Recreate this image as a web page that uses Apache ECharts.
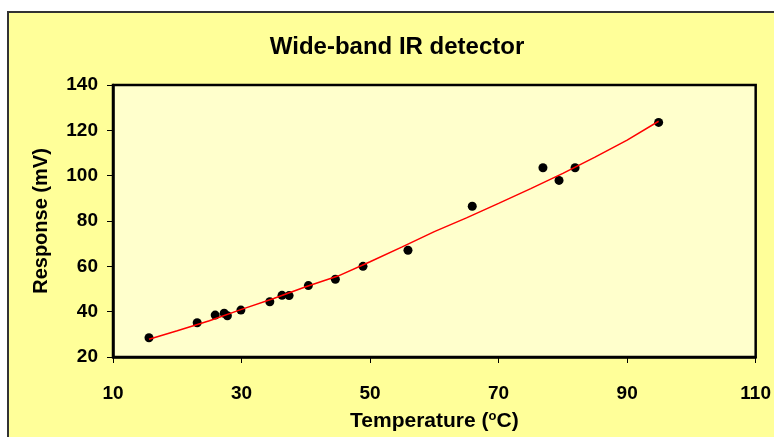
<!DOCTYPE html>
<html>
<head>
<meta charset="utf-8">
<script src="https://cdn.jsdelivr.net/npm/echarts@6/dist/echarts.min.js"></script>
<style>
  html, body { margin: 0; padding: 0; background: #fff; }
  .frame {
    position: absolute; left: 7px; top: 11px; width: 767px; height: 426px;
    background: #ffff99; border-top: 2px solid #333; border-left: 2px solid #333;
    box-sizing: border-box;
  }
  #chart { position: absolute; left: 0; top: 0; width: 774px; height: 437px; }
</style>
</head>
<body>
<div class="frame"></div>
<div id="chart"></div>
<script>
// measured points: temperature (°C) and response (mV)
const temps = [15.6, 23.1, 25.9, 27.3, 27.8, 29.9, 34.4, 36.3, 37.4, 40.4, 44.6, 48.9, 55.9, 65.9, 76.9, 79.4, 81.9, 94.9];
const responses = [28.5, 35.1, 38.5, 39.3, 38.2, 40.7, 44.4, 47.2, 47.1, 51.5, 54.3, 60.0, 67.1, 86.5, 103.5, 97.9, 103.5, 123.5];

// fitted curve
const fitTemps = [15.6, 20, 25, 30, 35, 40, 45, 50, 55, 60, 65, 70, 75, 80, 85, 90, 94.9];
const fitResponses = [27.8, 31.6, 36.0, 41.0, 45.8, 51.0, 55.7, 62.0, 68.6, 75.3, 81.4, 87.8, 94.3, 101.0, 108.2, 115.7, 124.0];

const fontFam = 'Arial, "Liberation Sans", sans-serif';
const myChart = echarts.init(document.getElementById("chart"));

const option = {
  backgroundColor: "transparent",
  animation: false,
  title: {
    text: "Wide-band IR detector",
    left: 392,
    textAlign: "center",
    top: 30,
    textStyle: { fontFamily: fontFam, fontWeight: "bold", fontSize: 24, color: "#000" }
  },
  grid: {
    left: 113,
    top: 85,
    width: 646,
    height: 272,
    show: true,
    backgroundColor: "#ffffcc",
    borderColor: "#000",
    borderWidth: 2.5
  },
  xAxis: {
    type: "value",
    min: 10,
    max: 110,
    interval: 20,
    name: "Temperature ({sup|o}C)",
    nameLocation: "middle",
    nameGap: 53,
    nameTextStyle: {
      fontFamily: fontFam, fontWeight: "bold", fontSize: 21, color: "#000",
      rich: {
        sup: { fontFamily: fontFam, fontWeight: "bold", fontSize: 13, color: "#000", verticalAlign: "top", padding: [0, 0, 10, 0] }
      }
    },
    axisLine: { show: true, lineStyle: { color: "#000", width: 2.5 } },
    axisTick: { show: true, inside: false, length: 6, lineStyle: { color: "#000", width: 1 } },
    axisLabel: { margin: 27, fontFamily: fontFam, fontWeight: "bold", fontSize: 19, color: "#000" },
    splitLine: { show: false }
  },
  yAxis: {
    type: "value",
    min: 20,
    max: 140,
    interval: 20,
    name: "Response (mV)",
    nameLocation: "middle",
    nameGap: 62,
    nameTextStyle: { fontFamily: fontFam, fontWeight: "bold", fontSize: 20, color: "#000" },
    axisLine: { show: true, lineStyle: { color: "#000", width: 2.5 } },
    axisTick: { show: true, inside: false, length: 6, lineStyle: { color: "#000", width: 1 } },
    axisLabel: { margin: 15, fontFamily: fontFam, fontWeight: "bold", fontSize: 19, color: "#000" },
    splitLine: { show: false }
  },
  series: [
    {
      name: "fit",
      type: "line",
      data: fitTemps.map((t, i) => [t, fitResponses[i]]),
      smooth: false,
      showSymbol: false,
      lineStyle: { color: "#ff0000", width: 1.5 },
      z: 3
    },
    {
      name: "data",
      type: "scatter",
      data: temps.map((t, i) => [t, responses[i]]),
      symbol: "circle",
      symbolSize: 9,
      itemStyle: { color: "#000", opacity: 1 },
      z: 2
    }
  ]
};

myChart.setOption(option);
</script>
</body>
</html>
